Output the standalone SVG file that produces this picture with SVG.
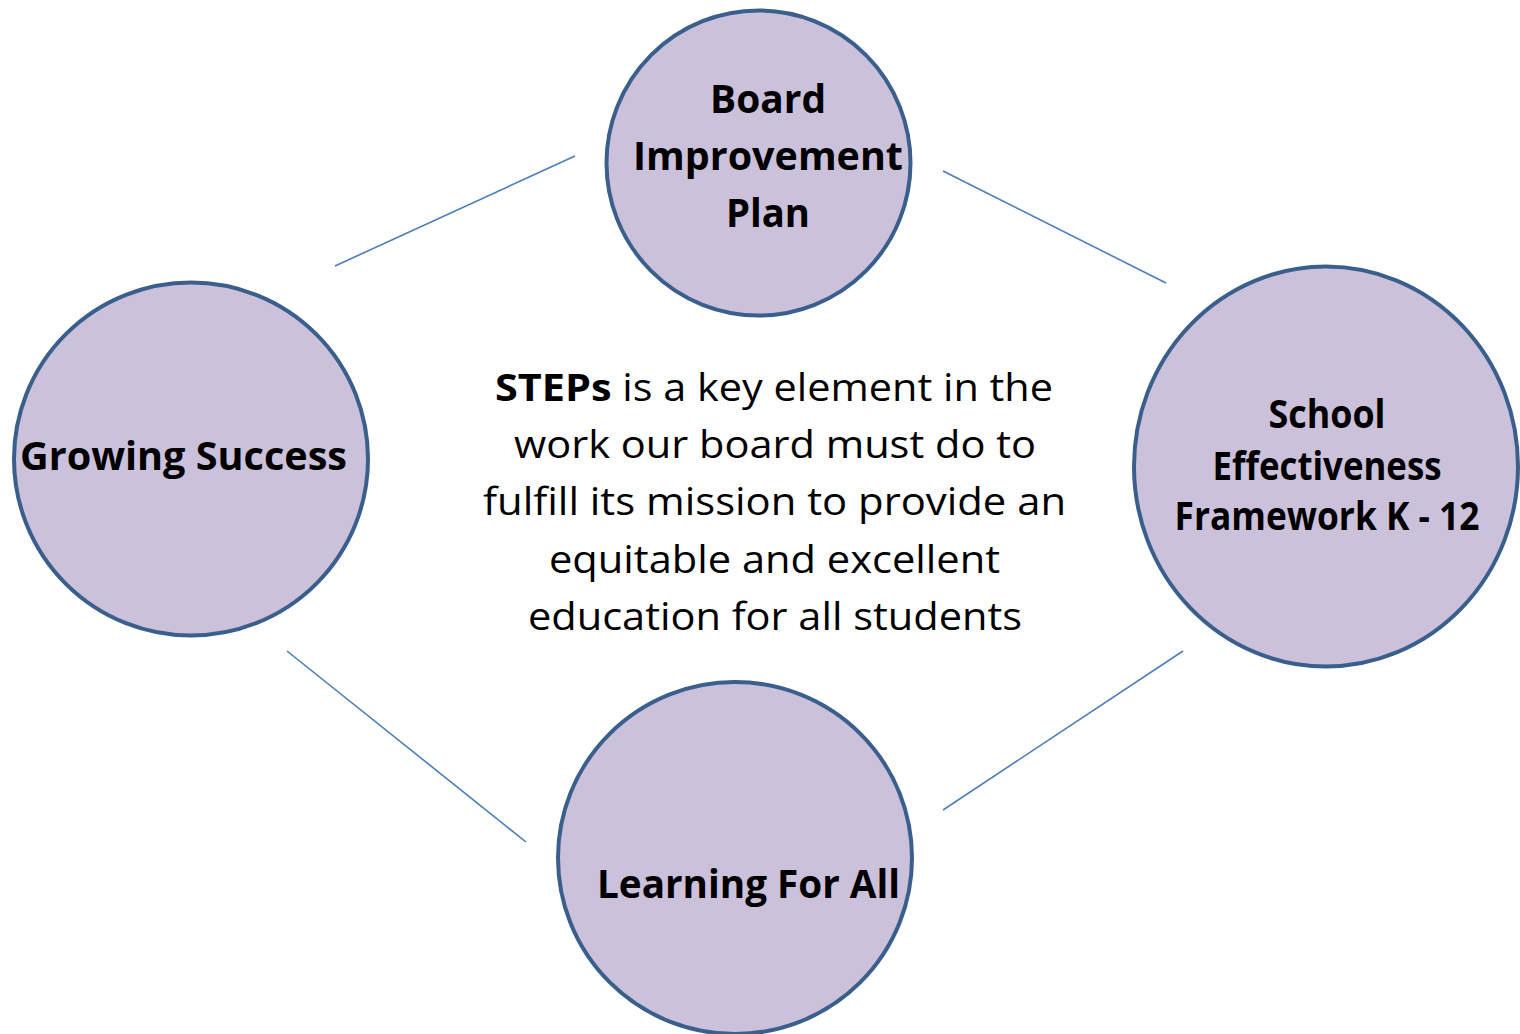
<svg xmlns="http://www.w3.org/2000/svg" width="1520" height="1034" viewBox="0 0 1520 1034">
<style>
.node{fill:#CBC1DA;stroke:#3B5F8D;stroke-width:4}
.conn{stroke:#4A7EBB;stroke-width:1.6;fill:none}
.lbl{font-family:"Open Sans","Liberation Sans",sans-serif;font-weight:bold;font-size:39px;fill:#000;text-anchor:middle}
.body{font-family:"Open Sans","Liberation Sans",sans-serif;font-size:38px;fill:#000;text-anchor:middle}
</style>
<rect width="1520" height="1034" fill="#fff"/>
<g id="connectors">
<line class="conn" x1="335" y1="266" x2="575" y2="156"/>
<line class="conn" x1="943" y1="171" x2="1166" y2="283"/>
<line class="conn" x1="287" y1="651" x2="526" y2="842"/>
<line class="conn" x1="943" y1="810" x2="1183" y2="651"/>
</g>
<g id="board">
<ellipse class="node" cx="758.5" cy="163" rx="152" ry="152.5"/>
<text class="lbl" x="768" y="113" textLength="116" lengthAdjust="spacingAndGlyphs">Board</text>
<text class="lbl" x="768" y="170" textLength="270" lengthAdjust="spacingAndGlyphs">Improvement</text>
<text class="lbl" x="768" y="227" textLength="84" lengthAdjust="spacingAndGlyphs">Plan</text>
</g>
<g id="school">
<ellipse class="node" cx="1326" cy="466.5" rx="192" ry="200"/>
<text class="lbl" x="1327" y="428" textLength="117" lengthAdjust="spacingAndGlyphs">School</text>
<text class="lbl" x="1327" y="480" textLength="229" lengthAdjust="spacingAndGlyphs">Effectiveness</text>
<text class="lbl" x="1327" y="530" textLength="305" lengthAdjust="spacingAndGlyphs">Framework K - 12</text>
</g>
<g id="growing">
<ellipse class="node" cx="191" cy="459" rx="177" ry="176.5"/>
<text class="lbl" x="183.5" y="470" textLength="327" lengthAdjust="spacingAndGlyphs">Growing Success</text>
</g>
<g id="learning">
<ellipse class="node" cx="735" cy="858" rx="177" ry="176"/>
<text class="lbl" x="748.5" y="898" textLength="303" lengthAdjust="spacingAndGlyphs">Learning For All</text>
</g>
<g id="center-text">
<text class="body" x="774" y="401" textLength="558" lengthAdjust="spacingAndGlyphs"><tspan font-weight="bold">STEPs</tspan> is a key element in the</text>
<text class="body" x="775" y="458" textLength="522" lengthAdjust="spacingAndGlyphs">work our board must do to</text>
<text class="body" x="774.5" y="515" textLength="583" lengthAdjust="spacingAndGlyphs">fulfill its mission to provide an</text>
<text class="body" x="774.5" y="573" textLength="451" lengthAdjust="spacingAndGlyphs">equitable and excellent</text>
<text class="body" x="775" y="630" textLength="494" lengthAdjust="spacingAndGlyphs">education for all students</text>
</g>
</svg>
